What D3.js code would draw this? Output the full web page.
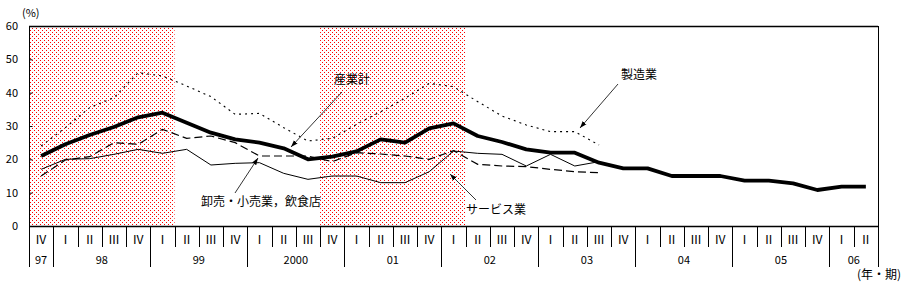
<!DOCTYPE html>
<html>
<head>
<meta charset="utf-8">
<script src="https://cdn.jsdelivr.net/npm/d3@7"></script>
<style>
  body { margin: 0; background: #fff; }
  svg text { font-family: "Noto Sans CJK JP", "DejaVu Sans", sans-serif; fill: #000; }
</style>
</head>
<body>
<div id="chart"></div>
<script>
// quarter labels, 1997 IV .. 2006 II
var quarterLabels = ["Ⅳ",
  "Ⅰ","Ⅱ","Ⅲ","Ⅳ", "Ⅰ","Ⅱ","Ⅲ","Ⅳ", "Ⅰ","Ⅱ","Ⅲ","Ⅳ", "Ⅰ","Ⅱ","Ⅲ","Ⅳ",
  "Ⅰ","Ⅱ","Ⅲ","Ⅳ", "Ⅰ","Ⅱ","Ⅲ","Ⅳ", "Ⅰ","Ⅱ","Ⅲ","Ⅳ", "Ⅰ","Ⅱ","Ⅲ","Ⅳ",
  "Ⅰ","Ⅱ"];
var yearLabels = ["97","98","99","2000","01","02","03","04","05","06"];
var yearQuarters = [1,4,4,4,4,4,4,4,4,2];
var yTicks = [0,10,20,30,40,50,60];

// recession periods (quarter index from, to)
var recessions = [[0,6],[12,18]];

// 産業計
var total = [21, 24.5, 27.3, 29.7, 32.6, 34, 31, 28, 26, 25, 23.3, 20,
  20.8, 22.4, 26, 25, 29.3, 30.8, 27, 25.2, 23, 22, 22, 19,
  17.3, 17.3, 15, 15, 15, 13.6, 13.6, 12.8, 10.8, 11.8, 11.8];
// 製造業
var manuf = [24, 29.5, 35.5, 38.5, 46, 45, 42, 38.8, 33.5, 33.8, 29.5, 25.5,
  26.3, 30.5, 34.3, 38.3, 42.8, 41.8, 37.3, 33, 30.3, 28.3, 28.3, 24.3];
// 卸売・小売業，飲食店
var retail = [15, 19.8, 20.8, 25, 24.5, 29, 26.3, 27, 25, 21, 21, 21,
  19.3, 22, 21.6, 21, 20, 22.6, 18.5, 18, 17.8, 17, 16.3, 16];
// サービス業
var service = [17, 20, 20.2, 21.5, 23, 21.8, 23, 18.3, 18.8, 19, 15.8, 14,
  15, 15, 13, 13, 16.3, 22.5, 21.8, 21.5, 18, 21.5, 18, 19.3];

var W = 912, H = 287;
var pL = 29, pR = 878, pT = 26, pB = 226, axB = 267;

var svg = d3.select("#chart").append("svg")
    .attr("width", W)
    .attr("height", H);

var x = d3.scaleLinear().domain([0, quarterLabels.length]).range([pL, pR]);
var y = d3.scaleLinear().domain([0, 60]).range([pB, pT]);

// dotted red pattern for recession shading
var defs = svg.append("defs");
var pat = defs.append("pattern")
    .attr("id", "dots")
    .attr("patternUnits", "userSpaceOnUse")
    .attr("width", 4).attr("height", 4);
pat.append("rect").attr("x", 0).attr("y", 0).attr("width", 1).attr("height", 1).attr("fill", "#ff0000");
pat.append("rect").attr("x", 2).attr("y", 2).attr("width", 1).attr("height", 1).attr("fill", "#ff0000");

svg.selectAll(".rec")
    .data(recessions)
  .enter().append("rect")
    .attr("class", "rec")
    .attr("x", function(d) { return x(d[0]); })
    .attr("y", pT)
    .attr("width", function(d) { return x(d[1]) - x(d[0]); })
    .attr("height", pB - pT)
    .attr("fill", "url(#dots)");

// frame
svg.append("line").attr("x1", pL).attr("x2", pR).attr("y1", pT + 0.5).attr("y2", pT + 0.5)
    .attr("stroke", "#000").attr("stroke-width", 1.3);
svg.append("line").attr("x1", pR + 0.5).attr("x2", pR + 0.5).attr("y1", pT).attr("y2", axB)
    .attr("stroke", "#000");
svg.append("line").attr("x1", pL + 0.5).attr("x2", pL + 0.5).attr("y1", pT).attr("y2", axB)
    .attr("stroke", "#000");
svg.append("line").attr("x1", pL).attr("x2", pR).attr("y1", pB + 0.5).attr("y2", pB + 0.5)
    .attr("stroke", "#000").attr("stroke-width", 1.3);

// y axis ticks (inward) and labels
var yAxis = d3.axisRight(y).tickValues(yTicks).tickSize(3).tickFormat("");
svg.append("g")
    .attr("transform", "translate(" + (pL + 0.5) + ",0)")
    .call(yAxis)
    .call(function(g) { g.select(".domain").remove(); });
svg.selectAll(".ylab")
    .data(yTicks)
  .enter().append("text")
    .attr("class", "ylab")
    .attr("x", 18)
    .attr("y", function(d) { return y(d); })
    .attr("dy", "0.35em")
    .attr("text-anchor", "end")
    .style("font-size", "11px")
    .text(function(d) { return d; });

svg.append("text").attr("x", 22).attr("y", 13).attr("dy", "0.35em")
    .style("font-size", "11px").text("(%)");

// quarter ticks and labels
svg.selectAll(".qtick")
    .data(d3.range(1, quarterLabels.length))
  .enter().append("line")
    .attr("x1", function(d) { return Math.round(x(d)) + 0.5; })
    .attr("x2", function(d) { return Math.round(x(d)) + 0.5; })
    .attr("y1", pB)
    .attr("y2", 247)
    .attr("stroke", "#000");
svg.selectAll(".qlab")
    .data(quarterLabels)
  .enter().append("text")
    .attr("x", function(d, i) { return x(i + 0.5); })
    .attr("y", 240)
    .attr("dy", "0.35em")
    .attr("text-anchor", "middle")
    .style("font-size", "12px")
    .text(function(d) { return d; });

// year separators and labels
var yearStart = [];
var acc = 0;
yearQuarters.forEach(function(n) { yearStart.push(acc); acc += n; });
svg.selectAll(".ytick")
    .data(yearStart.slice(1))
  .enter().append("line")
    .attr("x1", function(d) { return Math.round(x(d)) + 0.5; })
    .attr("x2", function(d) { return Math.round(x(d)) + 0.5; })
    .attr("y1", pB)
    .attr("y2", axB)
    .attr("stroke", "#000");
svg.selectAll(".yrlab")
    .data(yearLabels)
  .enter().append("text")
    .attr("x", function(d, i) { return x(yearStart[i] + yearQuarters[i] / 2); })
    .attr("y", 260)
    .attr("dy", "0.35em")
    .attr("text-anchor", "middle")
    .style("font-size", "11px")
    .text(function(d) { return d; });

svg.append("text").attr("x", 857).attr("y", 275).attr("dy", "0.35em")
    .style("font-size", "12px").text("(年・期)");

// series
var line = d3.line()
    .x(function(d, i) { return x(i + 0.5); })
    .y(function(d) { return y(d); });

svg.append("path").datum(service).attr("d", line)
    .attr("fill", "none").attr("stroke", "#000").attr("stroke-width", 1);
svg.append("path").datum(retail).attr("d", line)
    .attr("fill", "none").attr("stroke", "#000").attr("stroke-width", 1.2)
    .attr("stroke-dasharray", "8,4");
svg.append("path").datum(manuf).attr("d", line)
    .attr("fill", "none").attr("stroke", "#000").attr("stroke-width", 1.1)
    .attr("stroke-dasharray", "2,4");
svg.append("path").datum(total).attr("d", line)
    .attr("fill", "none").attr("stroke", "#000").attr("stroke-width", 3.8)
    .attr("stroke-linejoin", "round");

// annotations
defs.append("marker")
    .attr("id", "arrow")
    .attr("viewBox", "0 0 10 10")
    .attr("refX", 10).attr("refY", 5)
    .attr("markerWidth", 7).attr("markerHeight", 7)
    .attr("orient", "auto")
  .append("path")
    .attr("d", "M0,1.5L10,5L0,8.5z")
    .attr("fill", "#000");

var notes = [
  {text: "産業計", tx: 334, ty: 80, x1: 342, y1: 92, x2: 291, y2: 147},
  {text: "製造業", tx: 621, ty: 75, x1: 618, y1: 84, x2: 580, y2: 128},
  {text: "卸売・小売業，飲食店", tx: 201, ty: 202, x1: 235, y1: 193, x2: 258, y2: 158},
  {text: "サービス業", tx: 466, ty: 210, x1: 476, y1: 200, x2: 450, y2: 174}
];
notes.forEach(function(n) {
  svg.append("line")
      .attr("x1", n.x1).attr("y1", n.y1).attr("x2", n.x2).attr("y2", n.y2)
      .attr("stroke", "#333").attr("stroke-width", 1)
      .attr("marker-end", "url(#arrow)");
  svg.append("text")
      .attr("x", n.tx).attr("y", n.ty).attr("dy", "0.35em")
      .style("font-size", "12px")
      .text(n.text);
});
</script>
</body>
</html>
